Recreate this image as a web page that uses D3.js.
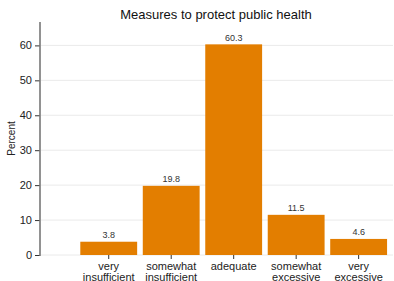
<!doctype html>
<html lang="en">
<head>
  <meta charset="utf-8">
  <script src="https://d3js.org/d3.v7.min.js"></script>
  <style>
    body { margin: 0; background: #fff; }
    text { font-family: "Liberation Sans", Arial, sans-serif; fill: #222; }
  </style>
</head>
<body>
  <div id="chart"></div>
  <script>
    // data
    var categories = [["very", "insufficient"], ["somewhat", "insufficient"], ["adequate"],
                      ["somewhat", "excessive"], ["very", "excessive"]];
    var values = [3.8, 19.8, 60.3, 11.5, 4.6];
    var yTicks = [0, 10, 20, 30, 40, 50, 60];

    var width = 394, height = 281;
    var svg = d3.select("#chart").append("svg")
        .attr("width", width).attr("height", height);

    // categories sit at 1..5, with an empty slot at 0
    var x = d3.scaleLinear().domain([-0.1, 5.55]).range([40, 393]);
    var y = d3.scaleLinear().domain([0, 66.7]).range([255, 22]);
    var barW = 0.91;

    // grid
    svg.append("g").selectAll("line").data(yTicks).enter().append("line")
        .attr("x1", 41).attr("x2", 393)
        .attr("y1", function(d) { return y(d); }).attr("y2", function(d) { return y(d); })
        .attr("stroke", "#eaeaea").attr("stroke-width", 1);

    // bars
    svg.append("g").selectAll("rect").data(values).enter().append("rect")
        .attr("x", function(d, i) { return x(i + 1 - barW / 2); })
        .attr("width", function() { return x(barW) - x(0); })
        .attr("y", function(d) { return y(d); })
        .attr("height", function(d) { return y(0) - y(d); })
        .attr("fill", "#e37e00");

    svg.append("g").selectAll("text").data(values).enter().append("text")
        .attr("x", function(d, i) { return x(i + 1); })
        .attr("y", function(d) { return y(d) - 3.5; })
        .attr("text-anchor", "middle")
        .style("font-size", "9px").style("fill", "#333")
        .text(function(d) { return d.toFixed(1); });

    // y axis
    var yAxis = d3.axisLeft(y).tickValues(yTicks).tickSize(5).tickPadding(3);
    var gy = svg.append("g").attr("transform", "translate(40,0)").call(yAxis);
    gy.select(".domain").remove();
    gy.selectAll(".tick line").attr("stroke", "#333");
    gy.selectAll(".tick text").style("font-size", "11px")
        .style("font-family", "'Liberation Sans', Arial, sans-serif").attr("fill", "#222");
    svg.append("line").attr("x1", 40).attr("x2", 40).attr("y1", 22).attr("y2", 256)
        .attr("stroke", "#777").attr("stroke-width", 1.6);

    // x axis ticks and labels
    var gx = svg.append("g").attr("transform", "translate(0,255)");
    var xt = gx.selectAll("g").data(categories).enter().append("g")
        .attr("transform", function(d, i) { return "translate(" + x(i + 1) + ",0)"; });
    xt.append("line").attr("y1", 0).attr("y2", 4).attr("stroke", "#333");
    xt.append("text").attr("text-anchor", "middle").style("font-size", "11px")
        .selectAll("tspan").data(function(d) { return d; }).enter().append("tspan")
        .attr("x", 0).attr("y", function(d, j) { return 15 + j * 10.5; })
        .text(function(d) { return d; });

    svg.append("text").attr("transform", "translate(15,138.5) rotate(-90)")
        .attr("text-anchor", "middle").style("font-size", "10px").text("Percent");

    svg.append("text").attr("x", 216).attr("y", 19).attr("text-anchor", "middle")
        .style("font-size", "13px").style("fill", "#111").text("Measures to protect public health");
  </script>
</body>
</html>
